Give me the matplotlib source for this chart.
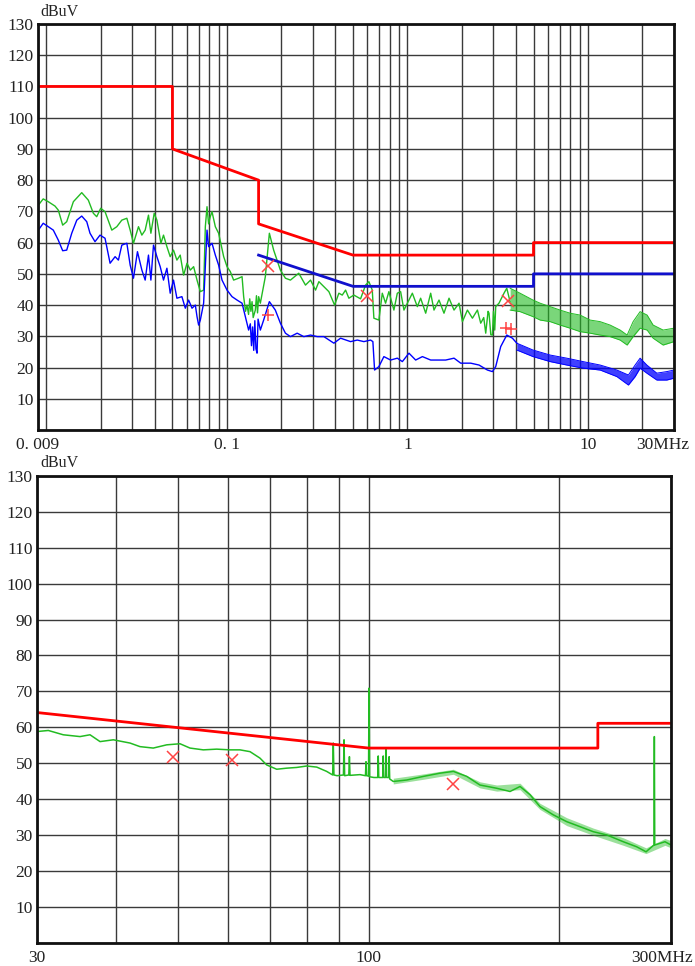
import matplotlib
matplotlib.use("Agg")
import matplotlib.pyplot as plt
from matplotlib.transforms import ScaledTranslation

plt.rcParams["font.family"] = ["Liberation Serif", "DejaVu Serif"]

# ---- conducted emission, 9 kHz - 30 MHz (top) ----
lim_qp_f = [0.009, 0.05, 0.05, 0.15, 0.15, 0.5, 5, 5, 30]
lim_qp_db = [110, 110, 90, 80, 66, 56, 56, 60, 60]
lim_av_f = [0.15, 0.5, 5, 5, 30]
lim_av_db = [56, 46, 46, 50, 50]

qp_f = [0.00904, 0.00962, 0.01026, 0.01118, 0.01166, 0.01233, 0.01298, 0.01413, 0.01572,
        0.01710, 0.01823, 0.01903, 0.02003, 0.02116, 0.02307, 0.02459, 0.02621, 0.02795,
        0.02916, 0.03042, 0.03242, 0.03385, 0.03531, 0.03683, 0.03798, 0.03961, 0.04100,
        0.04316, 0.04461, 0.04659, 0.04859, 0.05068, 0.05292, 0.05520, 0.05765, 0.06020,
        0.06280, 0.06550, 0.06840, 0.07135, 0.07442, 0.07605, 0.0777, 0.0793, 0.0810,
        0.0828, 0.0864, 0.0901, 0.0961, 0.1003, 0.1046, 0.1091, 0.1163, 0.1215, 0.1240,
        0.1270, 0.1294, 0.1320, 0.1340, 0.1360, 0.1380, 0.1400, 0.1439, 0.1460, 0.1480,
        0.1501, 0.1534, 0.1635, 0.1721, 0.1818, 0.1981, 0.2112, 0.2252, 0.2504, 0.2728,
        0.2910, 0.3102, 0.3236, 0.3450, 0.3677, 0.3954, 0.4176, 0.4361, 0.4549, 0.4744,
        0.5057, 0.5508, 0.5871, 0.6124, 0.6395, 0.6527, 0.6957, 0.7266, 0.7577, 0.7904,
        0.8426, 0.8801, 0.9182, 0.9577, 1.020, 1.066, 1.136, 1.185, 1.264, 1.347, 1.405,
        1.498, 1.596, 1.702, 1.814, 1.934, 2.019, 2.152, 2.294, 2.445, 2.550, 2.650, 2.718,
        2.800, 2.834, 2.900, 2.960, 3.000, 3.050, 3.087, 3.219, 3.431, 3.555, 3.710]
qp_db = [72, 74, 73.1, 71.7, 70.4, 65.6, 66.7, 73.1, 76,
         73.6, 69.4, 68.3, 71, 69.9, 64, 65.1, 67.2, 67.8,
         64, 59.8, 65.1, 62.4, 64, 68.8, 63, 69.4, 67.2,
         59.8, 62.4, 58.7, 55.5, 57.6, 54.4, 56, 49.6, 53.4,
         51.2, 52.3, 48, 44.3, 44.8, 65.1, 71.5, 66, 68.3,
         69.9, 65.1, 63, 55.5, 52.3, 50.7, 48, 48.6, 49.1, 42.7,
         38, 40, 37, 42, 38, 41.1, 36, 38.4, 43, 37.5,
         42.7, 40.6, 49.1, 63, 57.6, 51.2, 48.6, 48, 50.2, 46.4,
         48, 44.8, 47.5, 45.9, 44.3, 40, 43.8, 43.2, 44.8, 42.2,
         43.2, 42, 46.4, 47.5, 44.8, 35.8, 35.2, 43.8, 40.6, 44.3,
         38.4, 43.8, 44.3, 38.4, 41.6, 43.8, 39.5, 42.2, 37.4, 43.8, 38.4,
         41.6, 37.4, 42.2, 38.4, 40.6, 34.7, 38.4, 35.8, 38.4, 34.2, 36, 31,
         38, 37.4, 30.5, 30.4, 38, 32, 39.5, 40.6, 43.8, 45.4, 41]

qp_band_f = [3.71, 4.21, 4.97, 5.44, 6.18, 7.02, 7.97, 9.06, 10.29, 11.69, 13.28, 15.09,
             16.50, 17.81, 19.47, 21.29, 22.98, 26.11, 30]
qp_band_hi = [45.4, 43.8, 41.6, 40.6, 39.5, 38.4, 37.4, 36.8, 35.2, 34.7, 33.6, 32,
              30.4, 34.7, 37.9, 36.8, 33.6, 32, 32.6]
qp_band_lo = [38.4, 37.9, 36.3, 35.2, 34.7, 33.6, 32.6, 31.5, 31, 30.4, 29.9, 28.8,
              27.2, 29.9, 32.6, 32, 29.4, 27.2, 28.3]

av_f = [0.00904, 0.00962, 0.01026, 0.01094, 0.01166, 0.01233, 0.01298, 0.01384, 0.01476,
        0.01572, 0.01676, 0.01747, 0.01862, 0.01985, 0.02116, 0.02257, 0.02406, 0.02510,
        0.02621, 0.02795, 0.02916, 0.03042, 0.03200, 0.03385, 0.03531, 0.03683, 0.03798,
        0.03926, 0.04100, 0.04277, 0.04461, 0.04659, 0.04859, 0.05068, 0.05292, 0.05641,
        0.05891, 0.06145, 0.06417, 0.06694, 0.06840, 0.06982, 0.07135, 0.07442, 0.0777,
        0.0793, 0.0828, 0.0864, 0.0901, 0.0941, 0.1003, 0.1069, 0.1140, 0.1215, 0.1267,
        0.1321, 0.1350, 0.1370, 0.1390, 0.1410, 0.1430, 0.1450, 0.1471, 0.1490, 0.1534,
        0.1600, 0.1721, 0.1857, 0.1981, 0.2112, 0.2252, 0.2453, 0.2670, 0.2910, 0.3170,
        0.3450, 0.3919, 0.4268, 0.4848, 0.5281, 0.5745, 0.6258, 0.6444, 0.6586, 0.6957,
        0.7415, 0.8077, 0.8801, 0.9385, 1.021, 1.112, 1.212, 1.347, 1.467, 1.631, 1.814,
        1.976, 2.245, 2.495, 2.777, 2.960, 3.087, 3.290, 3.555, 3.820, 4.04]
av_db = [64, 66.2, 65.1, 64, 60.8, 57.4, 57.6, 63, 67.2,
         68.5, 66.7, 63, 60.3, 62.4, 61.4, 53.4, 55.5, 54.4,
         59.2, 59.8, 52.8, 48.6, 57.1, 51.2, 48, 56, 48,
         59.2, 55.5, 52.3, 48, 51.8, 43.8, 48, 42.2, 42.7,
         39, 41.6, 39, 40, 36.3, 33.6, 35.2, 40.6, 64,
         58.7, 59.8, 56, 52.8, 48, 44.8, 42.7, 41.6, 40.6, 36.3,
         32, 34, 27, 33, 25.5, 35, 26, 24.6, 35.5, 32,
         35.2, 41.1, 38.4, 34.2, 31, 29.9, 31, 29.9, 30.4, 29.9,
         29.9, 27.8, 29.4, 28.3, 28.8, 28.3, 28.8, 28.3, 19.2, 20.3,
         23.5, 22.4, 23, 21.9, 24.6, 22.4, 23.5, 22.4, 22.4, 22.4, 23,
         21.4, 21.4, 20.8, 19.2, 18.7, 20.3, 26.7, 30.4, 29.4, 27.8]

av_band_f = [4.04, 4.97, 6.18, 7.64, 9.41, 11.69, 14.47, 16.77, 18.27, 19.47, 21.21,
             24.09, 27.36, 30]
av_band_hi = [27.8, 25.6, 24, 23, 21.9, 20.8, 19.2, 17.6, 20.8, 23, 20.8, 18.2, 18.7, 19.2]
av_band_lo = [25.6, 23.5, 21.9, 20.8, 19.8, 19.2, 17.1, 14.4, 17.1, 19.8, 18.2, 16, 16, 16.6]

qp_mark_f = [0.169, 0.596, 3.63]
qp_mark_db = [52.5, 43, 41.4]
av_mark_f = [0.169, 3.52, 3.75]
av_mark_db = [36.8, 32.7, 32.3]

# ---- 30 - 300 MHz (bottom) ----
lim_b_f = [30, 100, 230, 230, 300]
lim_b_db = [64.1, 54.2, 54.2, 61.1, 61.1]

b_f = [30, 31.26, 33.0, 35.07, 36.37, 37.72, 39.58, 42.05, 43.61, 45.76, 48.05, 50.43,
       52.29, 54.88, 57.62, 60.46, 62.70, 65.03, 67.42, 69.09, 71.65, 74.29, 77.04, 79.89,
       82.85, 85.9, 87.8, 88.0, 88.2, 89.2, 91.3, 91.5, 91.7, 93.1, 93.3, 93.5, 96.96,
       98.9, 99.1, 99.3, 100.0, 100.2, 100.4, 102.0, 103.4, 103.6, 103.8, 105.3, 105.5,
       105.7, 106.4, 106.6, 106.8, 107.6, 107.8, 108.0, 109.4, 114.9, 122.0, 129.6, 136.1,
       142.9, 149.9, 159.3, 167.2, 173.4, 179.8, 186.4, 195.6, 205.4, 215.6, 226.2, 237.5,
       252.3, 264.8, 274.0, 282.0, 282.4, 282.8, 293.5, 300]
b_db = [58.8, 59.1, 57.9, 57.4, 57.9, 56, 56.5, 55.6, 54.6, 54.2, 55.1, 55.4,
        54.2, 53.7, 53.9, 53.7, 53.7, 53.2, 51.4, 49.5, 48.3, 48.6, 48.8, 49.2,
        48.9, 47.7, 46.7, 55.6, 46.7, 46.5, 46.7, 56.5, 46.5, 46.7, 51.8, 46.6, 46.8,
        46.5, 50.4, 46.5, 46.4, 70.9, 46.2, 46, 46, 52, 46, 46, 52,
        46, 46, 53.9, 46, 46, 51.8, 45.6, 44.9, 45.3, 46.3, 47.2, 47.7,
        46.3, 43.9, 43, 42.1, 43.5, 41.2, 37.9, 35.6, 33.7, 32.3, 30.9, 30,
        28.1, 26.7, 25.3, 27.2, 57.4, 27.2, 28.1, 27.2]

b_band_f = [109.4, 122.0, 136.1, 149.9, 159.3, 173.4, 186.4, 205.4, 226.2, 252.3, 274.0,
            293.5, 300]
b_band_hi = [45.8, 47.0, 48.3, 44.8, 43.9, 44.4, 38.8, 34.8, 31.9, 29.2, 26.4, 29.0, 28.4]
b_band_lo = [44.2, 45.5, 46.9, 43.1, 42.2, 42.6, 37.1, 32.6, 29.9, 27.1, 24.8, 27.1, 26.4]

b_mark_f = [49.2, 61.0, 136]
b_mark_db = [51.6, 50.9, 44.2]

RED = "#ff0000"
MARK = "#ff4444"
GREEN = "#22bb22"
BLUE = "#0000ff"
GRID = "#3a3a3a"

fig = plt.figure(figsize=(6.95, 9.66), dpi=100)
ax1 = fig.add_axes([38 / 695, 1 - 430 / 966, 636 / 695, 406 / 966])
ax2 = fig.add_axes([37 / 695, 1 - 942.6 / 966, 634 / 695, 466.6 / 966])


def style_axes(ax, xlim, grid_x, tick_x, tick_lbl, shift_px):
    ax.set_xscale("log")
    ax.set_xlim(*xlim)
    ax.set_ylim(0, 130)
    ax.set_xticks(tick_x)
    ax.set_xticklabels(tick_lbl)
    ax.set_xticks(grid_x, minor=True)
    ax.set_xticklabels([], minor=True)
    ax.set_yticks(range(0, 131, 10))
    ax.set_yticklabels([""] + [str(v) for v in range(10, 131, 10)])
    ax.tick_params(which="both", length=0, labelsize=12.5, colors="#222")
    ax.tick_params(axis="y", pad=3)
    ax.tick_params(axis="x", pad=5)
    ax.grid(True, which="both", axis="x", color=GRID, lw=1.0)
    ax.grid(True, which="major", axis="y", color=GRID, lw=1.0)
    for s in ax.spines.values():
        s.set_linewidth(2.0)
        s.set_color("#111")
    ax.set_axisbelow(True)
    # last label ("..MHz") sits right-aligned near the figure edge
    last = ax.get_xticklabels()[-1]
    last.set_ha("right")
    last.set_transform(last.get_transform()
                       + ScaledTranslation(shift_px / 100, 0, fig.dpi_scale_trans))


top_grid = [k * 10.0 ** e for e in (-2, -1, 0, 1) for k in range(1, 10)]
top_grid = [g for g in top_grid if 0.009 < g < 30]
style_axes(ax1, (0.009, 30), top_grid, [0.009, 0.1, 1, 10, 30],
           ["0. 009", "0. 1", "1", "10", "30MHz"], 15)

ax1.plot(qp_f, qp_db, color=GREEN, lw=1.0)
ax1.fill_between(qp_band_f, qp_band_lo, qp_band_hi, color=GREEN, alpha=0.6, lw=0)
ax1.plot(qp_band_f, qp_band_hi, color=GREEN, lw=0.7)
ax1.plot(qp_band_f, qp_band_lo, color=GREEN, lw=0.7)
ax1.plot(av_f, av_db, color=BLUE, lw=1.0)
ax1.fill_between(av_band_f, av_band_lo, av_band_hi, color=BLUE, alpha=0.75, lw=0)
ax1.plot(av_band_f, av_band_hi, color=BLUE, lw=0.7)
ax1.plot(av_band_f, av_band_lo, color=BLUE, lw=0.7)
ax1.plot(lim_qp_f, lim_qp_db, color=RED, lw=2.0)
ax1.plot(lim_av_f, lim_av_db, color="#1010cc", lw=2.0)
ax1.plot(qp_mark_f, qp_mark_db, ls="none", marker="x", color=MARK, ms=8, mew=1.1)
ax1.plot(av_mark_f, av_mark_db, ls="none", marker="+", color=MARK, ms=9, mew=1.1)

bot_grid = [40, 50, 60, 70, 80, 90, 100, 200]
style_axes(ax2, (30, 300), bot_grid, [30, 100, 300], ["30", "100", "300MHz"], 22)

ax2.plot(b_f, b_db, color=GREEN, lw=1.1)
ax2.fill_between(b_band_f, b_band_lo, b_band_hi, color=GREEN, alpha=0.45, lw=0)
ax2.plot(lim_b_f, lim_b_db, color=RED, lw=2.0)
ax2.plot(b_mark_f, b_mark_db, ls="none", marker="x", color=MARK, ms=8, mew=1.1)

fig.text(40 / 695, 1 - 12 / 966, "dBuV", fontsize=11.5, va="center", ha="left", color="#222")
fig.text(40 / 695, 1 - 463 / 966, "dBuV", fontsize=11.5, va="center", ha="left", color="#222")

fig.savefig("out.png", dpi=100)
